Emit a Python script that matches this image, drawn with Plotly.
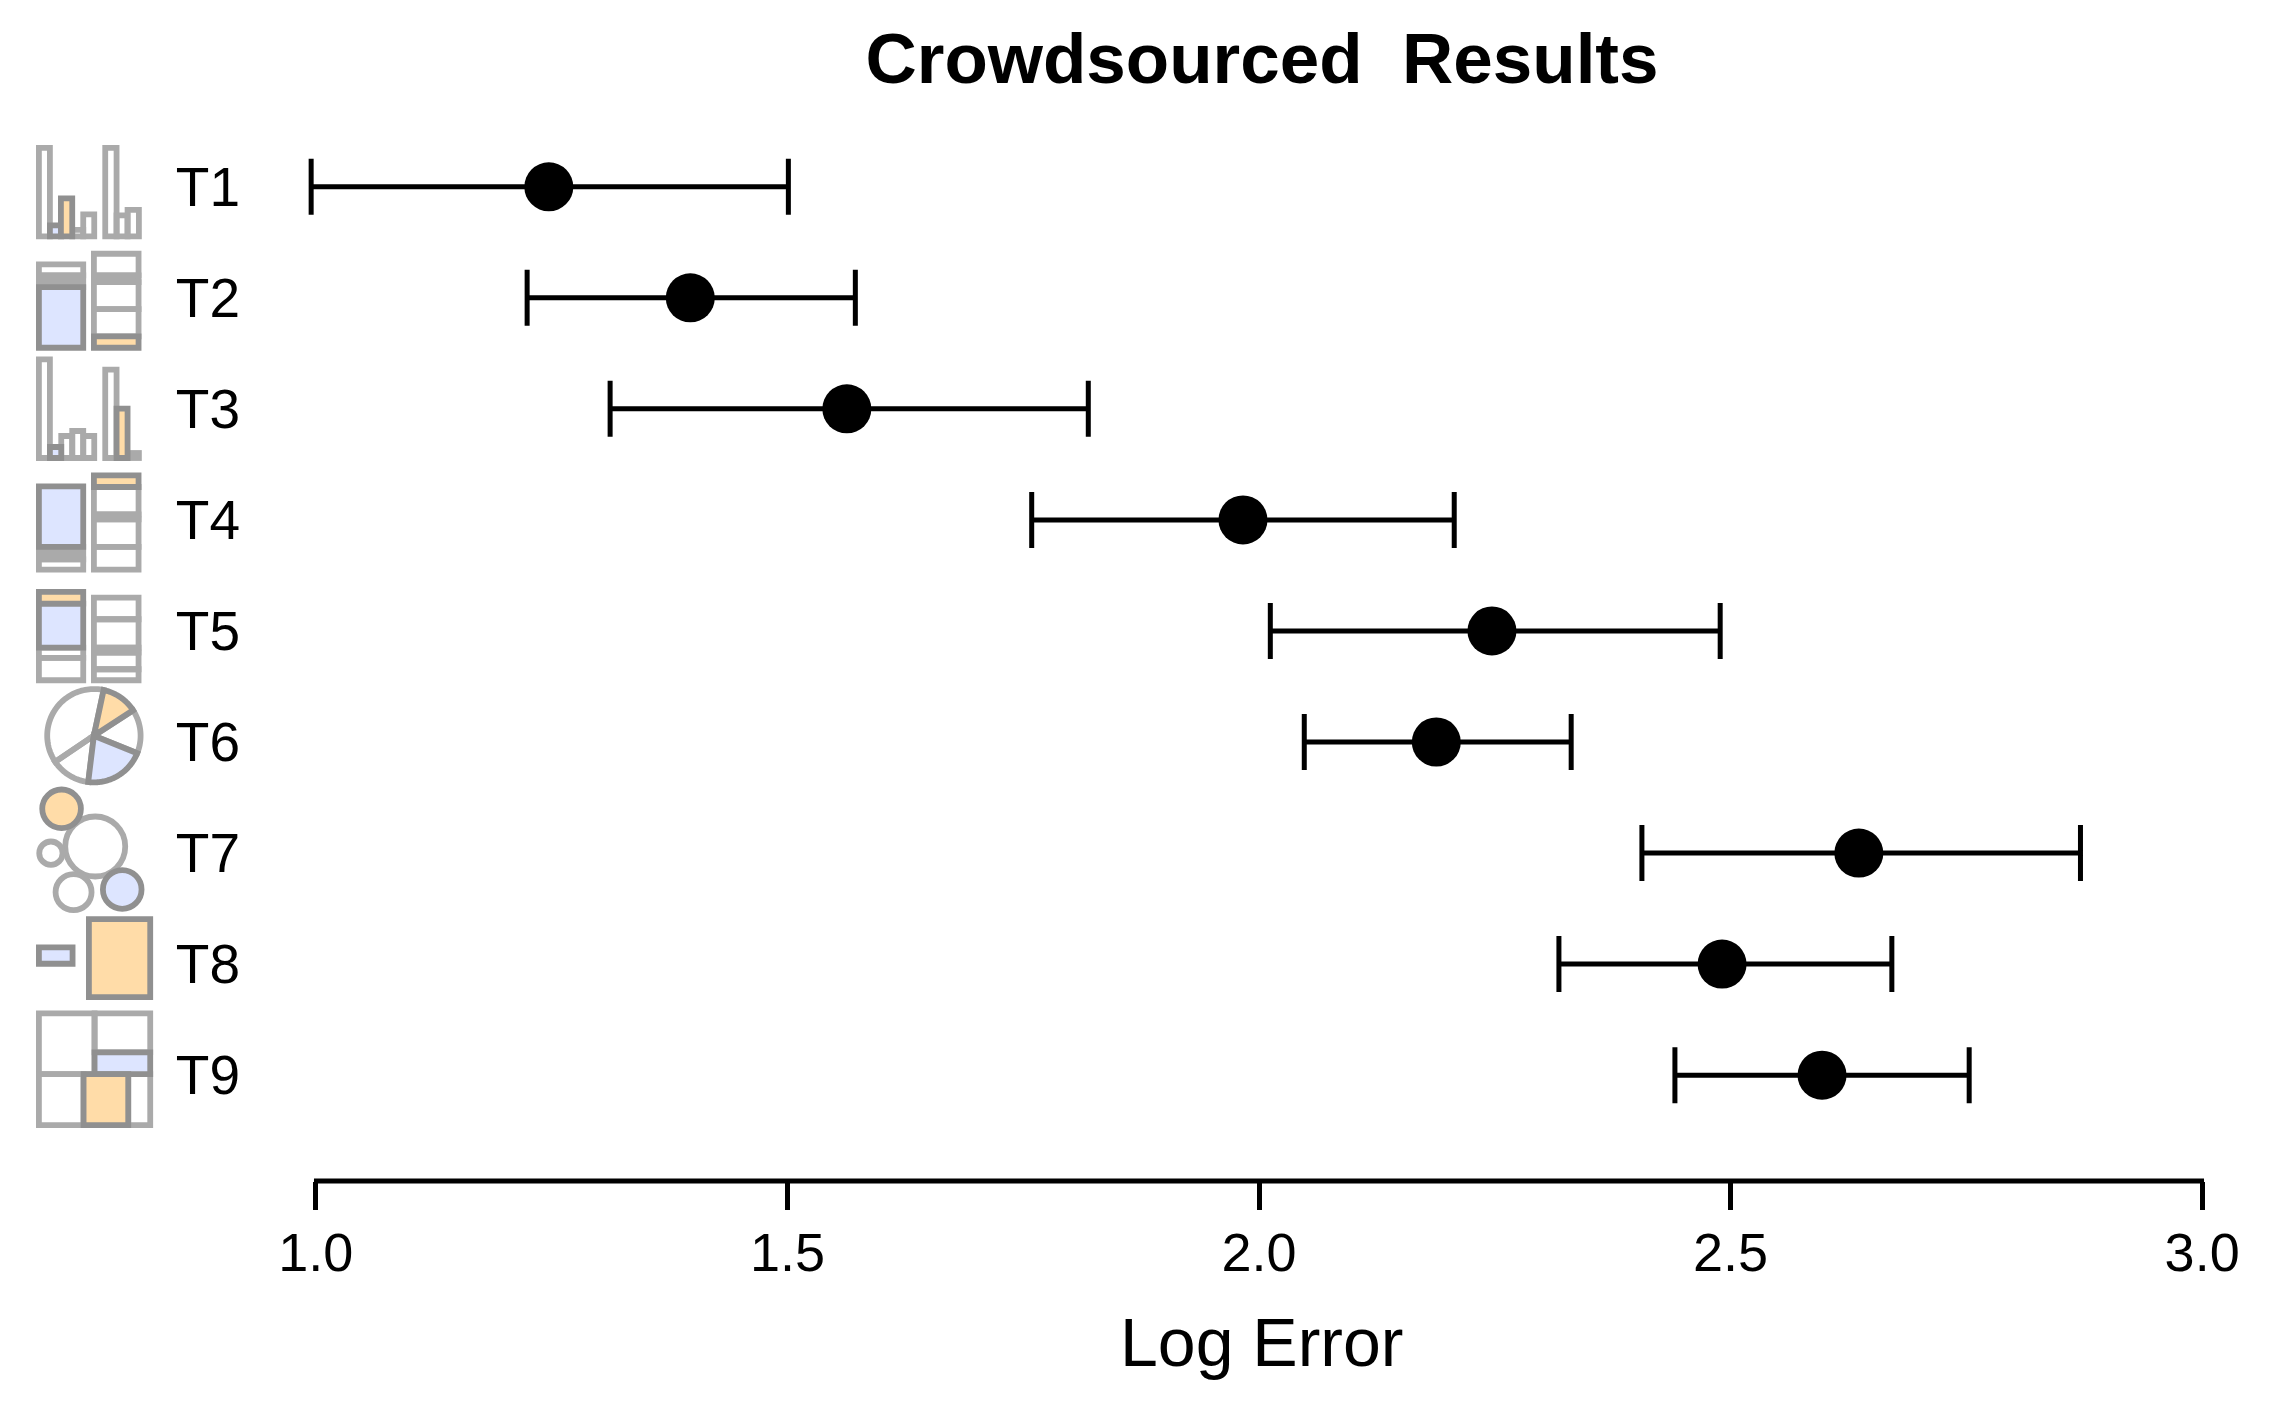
import math
import plotly.graph_objects as go

# ---- data ----
tasks = ["T1", "T2", "T3", "T4", "T5", "T6", "T7", "T8", "T9"]
mean_error = [1.247, 1.397, 1.563, 1.983, 2.247, 2.188, 2.636, 2.491, 2.597]
ci_low = [0.995, 1.224, 1.312, 1.759, 2.012, 2.048, 2.406, 2.318, 2.441]
ci_high = [1.501, 1.572, 1.819, 2.207, 2.489, 2.331, 2.871, 2.671, 2.753]
x_ticks = [1.0, 1.5, 2.0, 2.5, 3.0]
x_tick_labels = ["1.0", "1.5", "2.0", "2.5", "3.0"]

# ---- layout in pixels (page body margin of 8 px is subtracted) ----
PAGE = 8
W, H = 2278 - PAGE, 1410 - PAGE
UNIT = 943.3                 # px per axis unit
X_RANGE = [0.98, 3.02]       # a little wider than the drawn axis line, so the T1 cap is not clipped
X1 = 316 - PAGE              # x = 1.0
L = X1 - (1 - X_RANGE[0]) * UNIT
R = X1 + (X_RANGE[1] - 1) * UNIT
T, B = 130.5 - PAGE, 1181 - PAGE
ROW_H, ROW_1 = 111.1, 186.3
FONT = "Liberation Sans"

GRAY, DARK = "#aaaaaa", "#909090"
BLUE, ORANGE = "#dde5ff", "#ffdca8"
SW = 5.8

# Glyph pieces: (crop origin, x0, x1, y0, y1, style), in 3x crop units of the reference
Z1, Z2, Z3 = (20, 130), (20, 450), (20, 750)
g, b, o, s = "g", "b", "o", "s"  # plain, blue, orange, solid grey
rects = [
    # T1
    (Z1, 57, 90, 52, 318, g), (Z1, 157, 190, 298, 318, g), (Z1, 190, 223, 252, 318, g),
    (Z1, 90, 124, 285, 318, b), (Z1, 123, 157, 204, 318, o),
    (Z1, 256, 290, 52, 318, g), (Z1, 290, 323, 255, 318, g), (Z1, 323, 357, 238, 318, g),
    # T2
    (Z1, 57, 190, 402, 435, g), (Z1, 57, 190, 435, 470, s), (Z1, 57, 190, 470, 652, b),
    (Z1, 222, 356, 370, 435, g), (Z1, 222, 356, 435, 455, s), (Z1, 222, 356, 455, 536, g),
    (Z1, 222, 356, 536, 618, g), (Z1, 222, 356, 618, 652, o),
    # T3
    (Z1, 57, 90, 687, 983, g), (Z1, 124, 157, 917, 983, g), (Z1, 157, 190, 902, 983, g),
    (Z1, 190, 223, 917, 983, g), (Z1, 90, 124, 950, 983, b),
    (Z1, 256, 290, 718, 983, g), (Z1, 323, 357, 968, 983, s), (Z1, 290, 323, 835, 983, o),
    # T4
    (Z2, 57, 190, 290, 327, s), (Z2, 57, 190, 327, 358, g), (Z2, 57, 190, 108, 290, b),
    (Z2, 222, 356, 110, 192, g), (Z2, 222, 356, 192, 207, s), (Z2, 222, 356, 207, 290, g),
    (Z2, 222, 356, 290, 358, g), (Z2, 222, 356, 75, 110, o),
    # T5
    (Z2, 57, 190, 592, 623, g), (Z2, 57, 190, 623, 690, g), (Z2, 57, 190, 460, 592, b),
    (Z2, 57, 190, 425, 460, o),
    (Z2, 222, 356, 442, 507, g), (Z2, 222, 356, 507, 592, g), (Z2, 222, 356, 592, 607, s),
    (Z2, 222, 356, 607, 657, g), (Z2, 222, 356, 657, 690, g),
    # T8
    (Z3, 57, 158, 592, 641, b), (Z3, 207, 391, 507, 741, o),
    # T9
    (Z3, 57, 224, 790, 972, g), (Z3, 224, 391, 790, 907, g), (Z3, 57, 191, 972, 1125, g),
    (Z3, 325, 391, 972, 1125, g), (Z3, 224, 391, 907, 972, b), (Z3, 191, 325, 972, 1125, o),
]
# T7: (cx, cy, r, style)
circles = [
    (226, 289, 90, g), (93, 309, 35, g), (161, 426, 54, g),
    (125, 176, 58, o), (307, 418, 58, b),
]
# T6: clockwise from north, degrees
pie_center = (94, 735.5)
pie_radius = 46.7
pie_slices = [(236, 372, g), (57, 112, g), (187, 236, g), (12, 57, o), (112, 187, b)]


def px(x):
    """Reference-image x to paper coordinate."""
    return (x - PAGE - L) / (R - L)


def py(y):
    """Reference-image y to paper coordinate."""
    return (B - (y - PAGE)) / (B - T)


def style(kind):
    return {
        g: dict(line=dict(color=GRAY, width=SW), fillcolor="rgba(255,255,255,0)"),
        s: dict(line=dict(color=GRAY, width=SW), fillcolor=GRAY),
        b: dict(line=dict(color=DARK, width=SW), fillcolor=BLUE),
        o: dict(line=dict(color=DARK, width=SW), fillcolor=ORANGE),
    }[kind]


shapes = []
for origin, x0, x1, y0, y1, kind in sorted(rects, key=lambda r: r[5] in (b, o)):
    ox, oy = origin
    shapes.append(dict(type="rect", xref="paper", yref="paper",
                       x0=px(ox + x0 / 3), x1=px(ox + x1 / 3),
                       y0=py(oy + y0 / 3), y1=py(oy + y1 / 3), **style(kind)))

for cx, cy, r, kind in sorted(circles, key=lambda c: c[3] in (b, o)):
    ox, oy = Z3
    shapes.append(dict(type="circle", xref="paper", yref="paper",
                       x0=px(ox + (cx - r) / 3), x1=px(ox + (cx + r) / 3),
                       y0=py(oy + (cy - r) / 3), y1=py(oy + (cy + r) / 3), **style(kind)))

for a0, a1, kind in pie_slices:
    pts = []
    for i in range(61):
        a = math.radians(a0 + (a1 - a0) * i / 60)
        pts.append((pie_center[0] + pie_radius * math.sin(a), pie_center[1] - pie_radius * math.cos(a)))
    d = f"M {px(pie_center[0])} {py(pie_center[1])} " + " ".join(f"L {px(x)} {py(y)}" for x, y in pts) + " Z"
    shapes.append(dict(type="path", xref="paper", yref="paper", path=d, **style(kind)))

# axis line, only between the first and last tick
shapes.append(dict(type="line", xref="x", yref="paper", x0=x_ticks[0] - 0.002, x1=x_ticks[-1] + 0.002, y0=0, y1=0,
                   line=dict(color="black", width=5)))

fig = go.Figure(go.Scatter(
    x=mean_error, y=tasks, mode="markers", cliponaxis=False,
    marker=dict(color="black", size=49, line=dict(width=0)),
    error_x=dict(type="data", symmetric=False,
                 array=[h - m for h, m in zip(ci_high, mean_error)],
                 arrayminus=[m - l for m, l in zip(mean_error, ci_low)],
                 color="black", thickness=5, width=28),
))

fig.update_layout(
    width=W, height=H, autosize=False,
    margin=dict(l=L, r=W - R, t=T, b=H - B, pad=0),
    paper_bgcolor="white", plot_bgcolor="white", showlegend=False,
    font=dict(family=FONT, color="black"),
    title=dict(text="<b>Crowdsourced  Results</b>", font=dict(size=71, family=FONT, color="black"),
               x=(1262 - PAGE) / W, xanchor="center", xref="container",
               y=1 - 50 / H, yanchor="middle", yref="container"),
    shapes=shapes,
    annotations=[dict(text="Log Error", xref="paper", yref="paper", showarrow=False,
                      x=px(1262), y=py(1342), xanchor="center", yanchor="middle",
                      font=dict(size=68, family=FONT, color="black"))],
    xaxis=dict(range=X_RANGE, tickmode="array", tickvals=x_ticks, ticktext=x_tick_labels,
               showgrid=False, zeroline=False, showline=False,
               ticks="outside", ticklen=28, tickwidth=5, tickcolor="black", ticklabelstandoff=-4,
               tickfont=dict(size=54, family=FONT, color="black")),
    yaxis=dict(type="category", categoryorder="array", categoryarray=tasks,
               range=[(1181 - ROW_1) / ROW_H, (130.5 - ROW_1) / ROW_H], showgrid=False, zeroline=False, showline=False,
               ticks="outside", ticklen=45, tickcolor="rgba(0,0,0,0)", tickwidth=1,
               tickfont=dict(size=55, family=FONT, color="black")),
)

fig.write_html("out.html")
